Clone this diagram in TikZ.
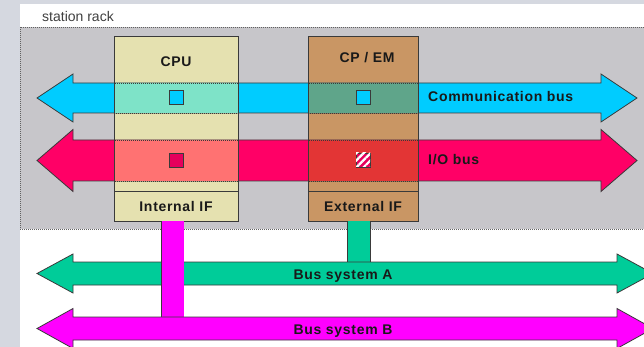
\documentclass[tikz,border=0pt]{standalone}
\usepackage{fontspec}
\setmainfont{Liberation Sans}
\usetikzlibrary{positioning, patterns.meta}

\definecolor{framecol}{HTML}{D5D8E0}
\definecolor{rackcol}{HTML}{C7C6CA}
\definecolor{cpucol}{HTML}{E5E1B0}
\definecolor{cpemcol}{HTML}{C99664}
\definecolor{commcol}{HTML}{00CCFF}
\definecolor{iocol}{HTML}{FF0066}
\definecolor{buscola}{HTML}{00CC99}
\definecolor{buscolb}{HTML}{FF00FF}
\definecolor{edgecol}{HTML}{3A3A3A}
% bus colours where they cross the modules
\definecolor{commcpu}{HTML}{7EE3C8}
\definecolor{commcpem}{HTML}{5FA58A}
\definecolor{iocpu}{HTML}{FF7272}
\definecolor{iocpem}{HTML}{E33535}

% block arrow with two heads: style, left tip, right tip, centre y, shaft half, head half
\newcommand{\busarrow}[6]{%
  \filldraw[#1] (#2,#4) -- ({#2+36},{#4-#6}) -- ({#2+36},{#4-#5}) -- ({#3-36},{#4-#5})
    -- ({#3-36},{#4-#6}) -- (#3,#4) -- ({#3-36},{#4+#6}) -- ({#3-36},{#4+#5})
    -- ({#2+36},{#4+#5}) -- ({#2+36},{#4+#6}) -- cycle;}

\tikzset{
  outline/.style={draw=edgecol, line width=0.8pt},
  lbl/.style={font={\fontsize{14}{16}\selectfont\bfseries\addfontfeature{LetterSpace=5}}, text=black!90, inner sep=0pt},
  modbox/.style={outline, inner sep=0pt, outer sep=0pt},
  sq/.style={outline, minimum size=14pt, inner sep=0pt},
  link/.style={line width=22pt, preaction={draw=edgecol, line width=23.6pt}}
}

\begin{document}
\begin{tikzpicture}[x=1pt, y=-1pt]
    \useasboundingbox (0,0) rectangle (644,347);
    \fill[framecol] (0,0) rectangle (644,347);
    \fill[white] (20,4) rectangle (644,347);

    % the rack
    \node[anchor=base west, font={\fontsize{14}{16}\selectfont}, text=black!75, inner sep=0pt] (racklbl) at (42,22) {station rack};
    \fill[rackcol] (20,27) rectangle (644,229);
    \draw[edgecol!80, dash pattern=on 1pt off 1pt] (644,27) -- (20,27) -- (20,229) -- (644,229);

    % modules
    \node[modbox, fill=cpucol, minimum width=124pt, minimum height=155pt] (cpu) at (176,113.5) {};
    \node[modbox, fill=cpucol, minimum width=124pt, minimum height=30pt, below=0pt of cpu, lbl] (cpuif) {Internal IF};
    \node[modbox, fill=cpemcol, minimum width=110pt, minimum height=155pt] (cpem) at (363,113.5) {};
    \node[modbox, fill=cpemcol, minimum width=110pt, minimum height=30pt, below=0pt of cpem, lbl] (cpemif) {External IF};

    % rack buses
    \busarrow{outline, fill=commcol}{37}{637}{98}{15}{24}
    \busarrow{outline, fill=iocol}{37}{637}{160.5}{20.5}{31}

    % modules seen through the buses
    \foreach \m/\ya/\yb/\c in {cpu/83/113/commcpu, cpu/140/181/iocpu, cpem/83/113/commcpem, cpem/140/181/iocpem} {
        \filldraw[fill=\c, draw=edgecol, line width=0.8pt, dash pattern=on 1pt off 1pt] (\m.west |- 0,\ya) rectangle (\m.east |- 0,\yb);
    }
    \foreach \m in {cpu, cpem}
        \draw[outline] (\m.north west) rectangle (\m.south east);

    \node[sq, fill=commcol] (cpucomm) at (176,97) {};
    \node[sq, fill=iocol!90!black] (cpuio) at (176,160) {};
    \node[sq, fill=commcol] (cpemcomm) at (363,97) {};
    \node[sq, fill=iocol!90!black, postaction={pattern={Lines[angle=45, distance=5pt, line width=2.2pt]}, pattern color=white}] (cpemio) at (363,160) {};

    \node[lbl, anchor=base] (cpulbl) at (176,67) {CPU};
    \node[lbl, anchor=base] (cpemlbl) at (367,63) {CP / EM};
    \node[lbl, anchor=base west] (commlbl) at (428,102) {Communication bus};
    \node[lbl, anchor=base west] (iolbl) at (428,165) {I/O bus};

    % field buses
    \coordinate (busa) at (344,273.5);
    \coordinate (busb) at (344,328.5);
    \coordinate (cpulink) at ([xshift=-3.5pt]cpuif.south);
    \coordinate (cpemlink) at ([xshift=-4pt]cpemif.south);

    \draw[link, buscola] (cpemlink) -- (cpemlink |- busa);
    \busarrow{outline, fill=buscola}{37}{653}{273.5}{11.5}{19.5}
    \draw[link, buscolb] (cpulink) -- (cpulink |- busb);
    \busarrow{outline, fill=buscolb}{37}{653}{328.5}{11.5}{20}

    \node[lbl, anchor=base] (busalbl) at (343,279) {Bus system A};
    \node[lbl, anchor=base] (busblbl) at (343,334) {Bus system B};
\end{tikzpicture}
\end{document}
